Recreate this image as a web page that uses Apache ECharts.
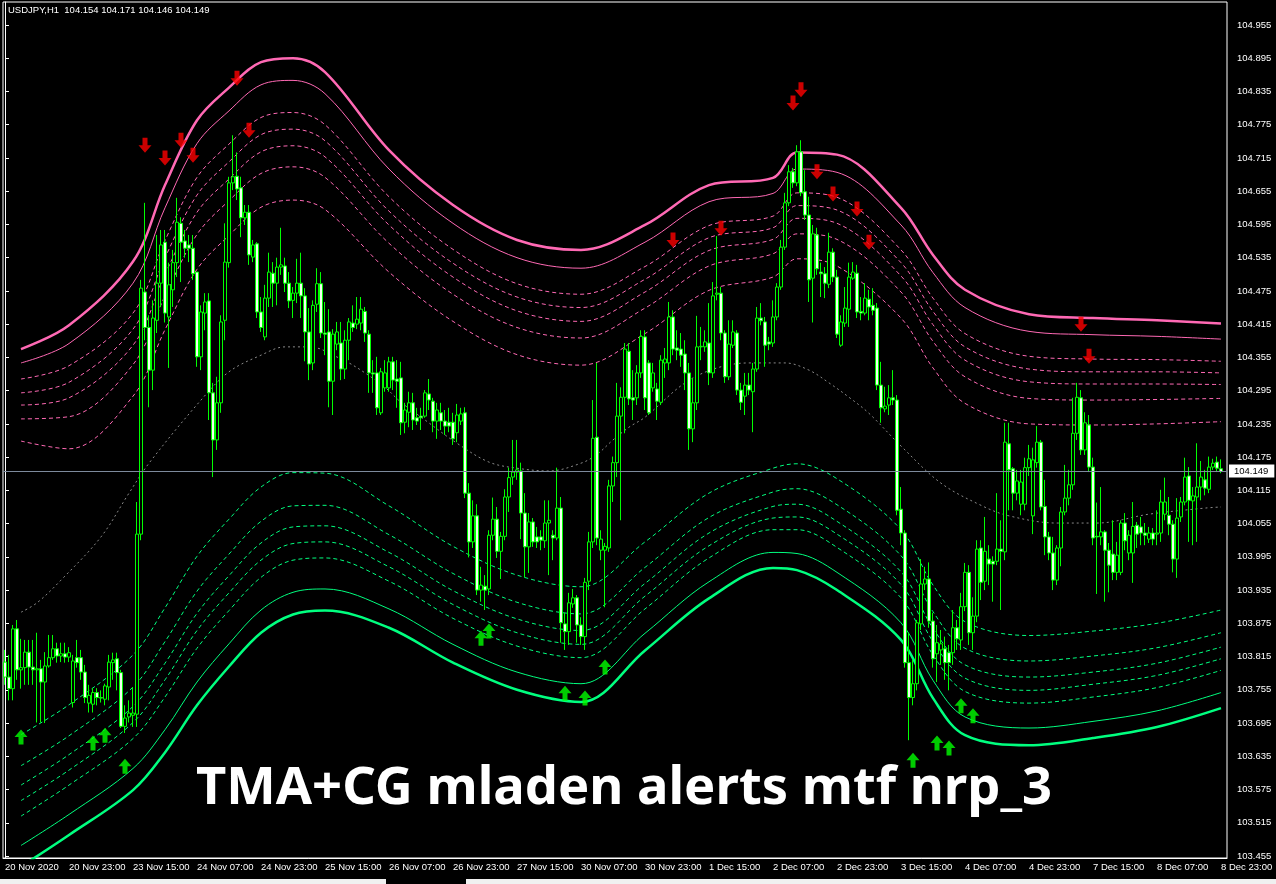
<!DOCTYPE html>
<html><head><meta charset="utf-8">
<script src="https://cdn.jsdelivr.net/npm/echarts@6/dist/echarts.min.js"></script>
<style>html,body{margin:0;padding:0;background:#000;}#c{width:1276px;height:884px;}</style>
</head><body><div id="c"></div>
<script>
const tickLabels = ['20 Nov 2020','20 Nov 23:00','23 Nov 15:00','24 Nov 07:00','24 Nov 23:00','25 Nov 15:00','26 Nov 07:00','26 Nov 23:00','27 Nov 15:00','30 Nov 07:00','30 Nov 23:00','1 Dec 15:00','2 Dec 07:00','2 Dec 23:00','3 Dec 15:00','4 Dec 07:00','4 Dec 23:00','7 Dec 15:00','8 Dec 07:00','8 Dec 23:00'];
const priceTicks = [103.455,103.515,103.575,103.635,103.695,103.755,103.815,103.875,103.935,103.995,104.055,104.115,104.175,104.235,104.295,104.355,104.415,104.475,104.535,104.595,104.655,104.715,104.775,104.835,104.895,104.955];
// [open, close, low, high]
const candles = [
[103.805,103.778,103.764,103.827],[103.778,103.757,103.736,103.818],[103.757,103.865,103.736,103.872],[103.865,103.791,103.773,103.881],
[103.791,103.795,103.757,103.847],[103.795,103.823,103.764,103.845],[103.823,103.796,103.764,103.845],[103.796,103.791,103.764,103.845],
[103.791,103.793,103.696,103.858],[103.793,103.769,103.696,103.809],[103.769,103.798,103.695,103.823],[103.798,103.813,103.795,103.854],
[103.813,103.829,103.809,103.854],[103.829,103.816,103.804,103.840],[103.816,103.820,103.805,103.840],[103.820,103.814,103.804,103.840],
[103.814,103.822,103.805,103.832],[103.732,103.807,103.723,103.818],[103.813,103.804,103.795,103.845],[103.813,103.787,103.773,103.827],
[103.787,103.741,103.731,103.800],[103.731,103.745,103.714,103.764],[103.729,103.750,103.714,103.758],[103.750,103.741,103.727,103.758],
[103.741,103.740,103.732,103.754],[103.738,103.762,103.727,103.766],[103.760,103.805,103.736,103.818],[103.804,103.809,103.773,103.822],
[103.811,103.786,103.754,103.822],[103.786,103.689,103.686,103.791],[103.689,103.704,103.677,103.727],[103.706,103.713,103.696,103.736],
[103.709,103.713,103.688,103.760],[103.711,104.036,103.688,104.094],[104.036,104.480,104.025,104.495],[104.473,104.409,104.386,104.634],
[104.409,104.332,104.265,104.431],[104.332,104.426,104.296,104.458],[104.422,104.489,104.399,104.576],[104.489,104.558,104.446,104.585],
[104.563,104.435,104.418,104.585],[104.428,104.486,104.336,104.526],[104.477,104.526,104.446,104.549],[104.526,104.599,104.500,104.643],
[104.597,104.563,104.491,104.608],[104.565,104.552,104.535,104.585],[104.558,104.552,104.527,104.576],[104.552,104.506,104.495,104.576],
[104.509,104.356,104.338,104.509],[104.356,104.437,104.332,104.449],[104.435,104.455,104.404,104.471],[104.457,104.291,104.242,104.471],
[104.291,104.206,104.139,104.309],[104.206,104.273,104.188,104.320],[104.273,104.419,104.255,104.431],[104.422,104.527,104.386,104.597],
[104.526,104.670,104.517,104.681],[104.670,104.681,104.657,104.756],[104.682,104.659,104.639,104.725],[104.661,104.607,104.572,104.681],
[104.607,104.617,104.594,104.630],[104.617,104.540,104.522,104.630],[104.536,104.558,104.527,104.567],[104.560,104.437,104.426,104.563],
[104.437,104.409,104.401,104.464],[104.392,104.462,104.386,104.486],[104.462,104.509,104.446,104.544],[104.507,104.489,104.446,104.527],
[104.489,104.518,104.449,104.535],[104.518,104.522,104.504,104.589],[104.520,104.489,104.473,104.535],[104.489,104.457,104.444,104.509],
[104.458,104.471,104.426,104.482],[104.471,104.489,104.453,104.533],[104.489,104.466,104.426,104.544],[104.466,104.401,104.348,104.480],
[104.401,104.343,104.314,104.444],[104.345,104.449,104.332,104.458],[104.451,104.488,104.437,104.516],[104.488,104.399,104.390,104.509],
[104.399,104.397,104.359,104.455],[104.401,104.312,104.265,104.442],[104.312,104.397,104.251,104.406],[104.379,104.401,104.368,104.419],
[104.381,104.334,104.314,104.419],[104.334,104.386,104.316,104.404],[104.386,104.419,104.350,104.426],[104.417,104.409,104.401,104.449],
[104.415,104.424,104.406,104.464],[104.417,104.442,104.404,104.464],[104.438,104.399,104.383,104.446],[104.397,104.327,104.291,104.404],
[104.327,104.325,104.291,104.350],[104.327,104.264,104.251,104.356],[104.255,104.329,104.251,104.336],[104.300,104.327,104.293,104.350],
[104.300,104.347,104.293,104.356],[104.347,104.314,104.296,104.356],[104.316,104.312,104.264,104.350],[104.318,104.237,104.215,104.347],
[104.238,104.260,104.218,104.273],[104.256,104.273,104.229,104.293],[104.273,104.242,104.224,104.291],[104.246,104.240,104.233,104.264],
[104.249,104.246,104.224,104.264],[104.249,104.291,104.246,104.296],[104.289,104.278,104.260,104.316],[104.276,104.240,104.220,104.282],
[104.240,104.260,104.208,104.273],[104.255,104.240,104.224,104.273],[104.240,104.231,104.215,104.260],[104.238,104.231,104.220,104.264],
[104.238,104.208,104.197,104.255],[104.219,104.251,104.202,104.271],[104.240,104.253,104.233,104.264],[104.255,104.110,104.101,104.265],
[104.110,104.022,103.994,104.128],[104.022,104.069,104.011,104.097],[104.069,103.935,103.926,104.090],[103.935,103.944,103.914,103.977],
[103.942,103.935,103.899,103.962],[103.937,104.034,103.926,104.043],[104.034,104.063,104.025,104.102],[104.063,104.005,103.993,104.085],
[104.005,104.032,103.955,104.040],[104.032,104.103,104.025,104.117],[104.103,104.138,104.076,104.156],[104.139,104.148,104.125,104.206],
[104.148,104.152,104.134,104.206],[104.150,104.074,104.027,104.165],[104.074,104.013,103.958,104.110],[104.013,104.058,103.966,104.074],
[104.058,104.022,104.013,104.065],[104.031,104.022,104.011,104.049],[104.031,104.025,104.007,104.043],[104.024,104.056,104.011,104.097],
[104.056,104.061,103.962,104.097],[104.034,104.029,103.989,104.043],[104.029,104.083,104.025,104.156],[104.083,103.876,103.840,104.103],
[103.874,103.860,103.827,103.894],[103.860,103.912,103.836,103.930],[103.910,103.921,103.903,103.937],[103.921,103.872,103.840,103.926],
[103.872,103.851,103.836,103.886],[103.851,103.949,103.827,103.957],[103.951,104.022,103.935,104.040],[104.022,104.209,104.011,104.278],
[104.211,104.029,104.016,104.345],[104.007,104.027,103.989,104.043],[104.007,104.014,103.904,104.020],[104.011,104.123,104.004,104.134],
[104.123,104.165,104.094,104.176],[104.165,104.249,104.139,104.309],[104.249,104.283,104.061,104.301],[104.283,104.370,104.218,104.381],
[104.366,104.280,104.269,104.381],[104.282,104.278,104.242,104.332],[104.282,104.327,104.269,104.341],[104.327,104.393,104.318,104.404],
[104.392,104.282,104.260,104.404],[104.345,104.255,104.251,104.350],[104.300,104.327,104.293,104.345],[104.298,104.276,104.242,104.309],
[104.274,104.350,104.269,104.359],[104.345,104.352,104.318,104.372],[104.345,104.428,104.332,104.455],[104.428,104.370,104.359,104.440],
[104.372,104.368,104.350,104.404],[104.370,104.359,104.338,104.399],[104.361,104.327,104.296,104.386],[104.327,104.226,104.188,104.345],
[104.226,104.273,104.202,104.318],[104.273,104.374,104.260,104.430],[104.374,104.375,104.350,104.410],[104.374,104.383,104.365,104.404],
[104.381,104.327,104.305,104.453],[104.327,104.466,104.318,104.491],[104.469,104.471,104.458,104.574],[104.471,104.399,104.386,104.482],
[104.399,104.320,104.309,104.404],[104.320,104.379,104.314,104.422],[104.377,104.401,104.372,104.422],[104.399,104.296,104.287,104.404],
[104.296,104.274,104.260,104.309],[104.285,104.305,104.251,104.327],[104.305,104.296,104.287,104.327],[104.293,104.334,104.220,104.345],
[104.334,104.426,104.329,104.446],[104.426,104.421,104.413,104.453],[104.419,104.377,104.338,104.428],[104.383,104.379,104.368,104.392],
[104.381,104.428,104.374,104.458],[104.428,104.482,104.422,104.489],[104.482,104.554,104.477,104.567],[104.554,104.634,104.549,104.652],
[104.634,104.690,104.628,104.702],[104.690,104.670,104.661,104.697],[104.670,104.726,104.664,104.738],[104.726,104.652,104.646,104.747],
[104.654,104.612,104.603,104.693],[104.612,104.495,104.455,104.645],[104.498,104.578,104.418,104.594],[104.576,104.515,104.504,104.589],
[104.509,104.506,104.464,104.526],[104.506,104.489,104.462,104.518],[104.487,104.545,104.480,104.580],[104.545,104.500,104.491,104.552],
[104.500,104.397,104.390,104.513],[104.377,104.419,104.374,104.431],[104.417,104.444,104.410,104.482],[104.442,104.500,104.410,104.526],
[104.498,104.509,104.495,104.527],[104.507,104.437,104.426,104.522],[104.438,104.435,104.422,104.464],[104.435,104.462,104.431,104.489],
[104.460,104.446,104.422,104.477],[104.449,104.440,104.431,104.480],[104.444,104.305,104.296,104.453],[104.305,104.264,104.237,104.347],
[104.262,104.267,104.256,104.302],[104.269,104.282,104.251,104.305],[104.282,104.278,104.269,104.332],[104.278,104.079,104.070,104.287],
[104.081,104.038,104.016,104.121],[104.038,103.804,103.795,104.043],[103.804,103.741,103.664,103.858],[103.741,103.766,103.727,103.809],
[103.766,103.876,103.754,103.881],[103.874,103.946,103.863,103.991],[103.946,103.955,103.935,103.977],[103.955,103.879,103.867,103.985],
[103.879,103.811,103.795,103.894],[103.820,103.840,103.769,103.872],[103.827,103.838,103.800,103.863],[103.829,103.804,103.773,103.851],
[103.822,103.804,103.754,103.836],[103.822,103.867,103.800,103.899],[103.867,103.847,103.827,103.881],[103.845,103.905,103.827,103.930],
[103.905,103.967,103.897,103.984],[103.967,103.858,103.836,103.980],[103.858,103.888,103.827,103.922],[103.888,104.009,103.877,104.025],
[104.011,103.949,103.917,104.025],[103.951,104.005,103.935,104.067],[103.991,103.982,103.944,104.016],[103.987,103.982,103.914,103.996],
[103.987,104.009,103.980,104.110],[104.009,104.005,103.899,104.061],[104.004,104.202,103.989,104.237],[104.199,104.152,104.079,104.237],
[104.154,104.110,104.079,104.157],[104.110,104.132,104.097,104.152],[104.090,104.130,104.070,104.152],[104.090,104.156,104.079,104.174],
[104.156,104.172,104.141,104.197],[104.069,104.170,104.036,104.192],[104.165,104.202,104.156,104.231],[104.202,104.085,104.079,104.206],
[104.086,104.031,103.998,104.134],[104.031,104.002,103.989,104.040],[104.002,103.953,103.935,104.031],[103.953,104.011,103.944,104.016],
[104.011,104.076,103.978,104.085],[104.076,104.101,104.070,104.161],[104.101,104.125,104.088,104.152],[104.125,104.218,104.116,104.282],
[104.218,104.283,104.206,104.309],[104.282,104.188,104.179,104.296],[104.188,104.237,104.179,104.256],[104.233,104.157,104.148,104.251],
[104.157,104.029,104.016,104.174],[104.032,104.031,103.928,104.093],[104.031,104.040,104.016,104.121],[104.040,104.007,103.914,104.043],
[104.007,103.980,103.931,104.020],[104.000,103.967,103.953,104.061],[103.967,103.998,103.953,104.022],[103.967,104.056,103.962,104.061],
[104.056,104.024,104.007,104.074],[104.002,104.034,103.989,104.043],[104.002,104.050,103.948,104.094],[104.052,104.036,104.011,104.058],
[104.049,104.038,104.016,104.067],[104.038,104.034,104.016,104.056],[104.027,104.038,104.020,104.049],[104.038,104.027,104.016,104.047],
[104.036,104.038,104.016,104.079],[104.038,104.094,104.022,104.116],[104.072,104.094,104.061,104.138],[104.070,104.054,104.034,104.103],
[104.054,103.991,103.967,104.061],[103.991,104.065,103.957,104.101],[104.067,104.094,104.058,104.103],[104.094,104.139,104.088,104.174],
[104.141,104.097,104.022,104.157],[104.096,104.105,104.016,104.121],[104.103,104.121,104.022,104.200],[104.121,104.139,104.097,104.168],
[104.134,104.119,104.106,104.152],[104.117,104.157,104.110,104.176],[104.157,104.164,104.152,104.172],[104.166,104.155,104.148,104.176],
[104.154,104.149,104.146,104.171]
];
// TMA bands sampled at bar indices
const bandIdx = [4,16,32,40,48,56,64,72,80,96,112,128,144,160,176,192,198,208,224,232,240,256,272,288,304];
const upper0 = [104.370,104.413,104.528,104.666,104.783,104.842,104.888,104.895,104.870,104.729,104.630,104.567,104.549,104.594,104.666,104.679,104.725,104.721,104.625,104.540,104.477,104.433,104.426,104.422,104.416];
const upper1 = [104.345,104.380,104.489,104.625,104.741,104.800,104.847,104.855,104.831,104.695,104.597,104.535,104.516,104.563,104.636,104.651,104.695,104.689,104.594,104.508,104.445,104.402,104.396,104.393,104.388];
const upper2 = [104.316,104.340,104.435,104.566,104.680,104.740,104.788,104.797,104.775,104.645,104.550,104.488,104.469,104.519,104.593,104.610,104.652,104.644,104.549,104.462,104.398,104.357,104.352,104.351,104.348];
const upper3 = [104.291,104.310,104.406,104.535,104.648,104.708,104.757,104.767,104.746,104.619,104.525,104.464,104.445,104.496,104.571,104.589,104.629,104.621,104.526,104.438,104.374,104.334,104.329,104.329,104.327];
const upper4 = [104.269,104.282,104.377,104.505,104.617,104.677,104.726,104.737,104.717,104.594,104.500,104.439,104.420,104.473,104.548,104.568,104.606,104.597,104.502,104.414,104.350,104.311,104.307,104.307,104.306];
const upper5 = [104.244,104.248,104.342,104.466,104.577,104.638,104.687,104.699,104.680,104.561,104.469,104.409,104.390,104.444,104.520,104.542,104.578,104.568,104.473,104.384,104.320,104.281,104.278,104.279,104.281];
const upper6 = [104.204,104.190,104.285,104.405,104.514,104.575,104.626,104.639,104.622,104.509,104.420,104.360,104.341,104.398,104.476,104.500,104.533,104.520,104.426,104.336,104.272,104.235,104.233,104.235,104.239];
const lower6 = [103.674,103.728,103.818,103.903,103.996,104.063,104.121,104.147,104.146,104.087,104.014,103.962,103.941,104.022,104.110,104.155,104.163,104.136,104.044,103.944,103.878,103.853,103.861,103.875,103.899];
const lower5 = [103.618,103.672,103.760,103.842,103.933,104.000,104.059,104.087,104.088,104.035,103.965,103.913,103.892,103.976,104.066,104.112,104.118,104.089,103.997,103.896,103.830,103.807,103.816,103.831,103.858];
const lower4 = [103.583,103.638,103.725,103.803,103.893,103.961,104.020,104.049,104.051,104.003,103.934,103.883,103.862,103.947,104.038,104.086,104.090,104.059,103.968,103.866,103.800,103.778,103.787,103.803,103.832];
const lower3 = [103.555,103.610,103.696,103.773,103.862,103.930,103.989,104.019,104.022,103.977,103.909,103.858,103.837,103.924,104.015,104.065,104.067,104.036,103.945,103.842,103.776,103.754,103.765,103.781,103.811];
const lower2 = [103.527,103.583,103.667,103.742,103.830,103.898,103.958,103.989,103.993,103.951,103.884,103.834,103.813,103.901,103.993,104.044,104.044,104.012,103.921,103.818,103.752,103.731,103.742,103.759,103.790];
const lower1 = [103.474,103.530,103.613,103.683,103.769,103.838,103.899,103.931,103.937,103.901,103.837,103.787,103.766,103.857,103.950,104.003,104.001,103.967,103.876,103.772,103.706,103.686,103.698,103.717,103.750];
const lower0 = [103.436,103.493,103.574,103.642,103.727,103.797,103.858,103.891,103.898,103.867,103.804,103.755,103.733,103.826,103.920,103.975,103.971,103.935,103.845,103.740,103.673,103.655,103.668,103.688,103.722];
const centerIdx = [4,8,14,24,31,36,49,56,64,70,74,78,82,86,90,95,99,105,113,121,128,136,144,148,152,156,160,170,178,186,195,201,206,211,216,224,234,244,251,263,273,286,300,304];
const centerVal = [103.895,103.912,103.953,104.031,104.110,104.164,104.278,104.329,104.359,104.374,104.374,104.372,104.359,104.345,104.327,104.301,104.274,104.242,104.200,104.166,104.155,104.150,104.164,104.180,104.206,104.229,104.247,104.309,104.336,104.345,104.345,104.332,104.309,104.283,104.254,104.195,104.128,104.088,104.069,104.056,104.056,104.072,104.083,104.085];
const downIdx = [35,40,44,47,58,61,167,179,197,199,203,207,213,216,269,271];
const downVal = [104.738,104.715,104.747,104.720,104.859,104.765,104.567,104.588,104.814,104.838,104.690,104.650,104.623,104.563,104.415,104.357];
const upIdx = [4,22,25,30,119,121,140,145,150,227,233,236,239,242];
const upVal = [103.670,103.659,103.673,103.617,103.848,103.861,103.749,103.740,103.796,103.628,103.659,103.650,103.726,103.708];
const bidPrice = 104.149;
const headerText = 'USDJPY,H1  104.154 104.171 104.146 104.149';
const titleText = 'TMA+CG mladen alerts mtf nrp_3';

const N = 306;
const cats = Array.from({length: N}, (_, i) => String(i));
const PINK = '#ff69b4', GREEN = '#00ff7f';
function band(arr, color, width, type) {
  return {type: 'line', xAxisIndex: 1, yAxisIndex: 0, data: bandIdx.map((b, k) => [b, arr[k]]),
    showSymbol: false, smooth: 0.35, silent: true, z: 2,
    lineStyle: {color: color, width: width, type: type}};
}
const upPath = 'path://M6.5,0 L13,7.5 L9,7.5 L9,15 L4,15 L4,7.5 L0,7.5 Z';
const downPath = 'path://M4,0 L9,0 L9,7.5 L13,7.5 L6.5,15 L0,7.5 L4,7.5 Z';
const chart = echarts.init(document.getElementById('c'));
chart.setOption({
  animation: false,
  backgroundColor: '#000',
  grid: {left: 3, top: 2, width: 1224, height: 856, show: true, borderColor: '#fff', borderWidth: 1, backgroundColor: 'transparent'},
  xAxis: [{
    type: 'category', data: cats, boundaryGap: true,
    axisLine: {lineStyle: {color: '#fff'}},
    axisTick: {alignWithLabel: true, length: 3, interval: (i) => i % 16 === 0 && i <= 304, lineStyle: {color: '#fff'}},
    axisLabel: {interval: (i) => i % 16 === 0 && i <= 304, formatter: (v, i) => (i % 16 === 0 ? tickLabels[i / 16] || '' : ''),
      color: '#fff', fontSize: 9.5, fontFamily: 'Liberation Sans', align: 'left', margin: 4},
    splitLine: {show: false}
  }, {
    type: 'value', min: -0.5, max: N - 0.5, show: false
  }],
  yAxis: [{
    type: 'value', position: 'right', min: 103.4514, max: 104.9965, scale: true,
    axisLine: {show: true, lineStyle: {color: '#fff'}},
    axisTick: {show: true, length: 4, customValues: priceTicks, lineStyle: {color: '#fff'}},
    axisLabel: {customValues: priceTicks, formatter: (v) => Number(v).toFixed(3), color: '#fff', fontSize: 9.5, fontFamily: 'Liberation Sans', margin: 10},
    splitLine: {show: false}
  }],
  series: [
    band(upper6, PINK, 1, [4, 3]), band(upper5, PINK, 1, [4, 3]), band(upper4, PINK, 1, [4, 3]),
    band(upper3, PINK, 1, [4, 3]), band(upper2, PINK, 1, [4, 3]), band(upper1, PINK, 1, 'solid'), band(upper0, PINK, 2.5, 'solid'),
    band(lower6, GREEN, 1, [4, 3]), band(lower5, GREEN, 1, [4, 3]), band(lower4, GREEN, 1, [4, 3]),
    band(lower3, GREEN, 1, [4, 3]), band(lower2, GREEN, 1, [4, 3]), band(lower1, GREEN, 1, 'solid'), band(lower0, GREEN, 2.5, 'solid'),
    {type: 'line', xAxisIndex: 1, data: centerIdx.map((b, k) => [b, centerVal[k]]), showSymbol: false, smooth: 0.35, silent: true, z: 2,
      lineStyle: {color: '#8a8a8a', width: 1, type: [2, 3]}},
    {type: 'candlestick', xAxisIndex: 0, yAxisIndex: 0, data: candles, barWidth: 3, z: 3,
      itemStyle: {color: '#000', color0: '#f4fff0', borderColor: '#00ff00', borderColor0: '#00ff00', borderColorDoji: '#00ff00', borderWidth: 1},
      markLine: {symbol: 'none', silent: true, animation: false, data: [{yAxis: bidPrice}],
        lineStyle: {color: '#7d8a9c', type: 'solid', width: 1},
        label: {show: true, position: 'end', formatter: bidPrice.toFixed(3), backgroundColor: '#fff', color: '#000', fontSize: 9.5,
          fontFamily: 'Liberation Sans', padding: [2, 6, 1, 5], distance: 2}}},
    {type: 'scatter', xAxisIndex: 1, data: downIdx.map((b, k) => [b, downVal[k]]), symbol: downPath, symbolSize: [13, 15], z: 4, silent: true,
      itemStyle: {color: '#ff0000'}},
    {type: 'scatter', xAxisIndex: 1, data: upIdx.map((b, k) => [b, upVal[k]]), symbol: upPath, symbolSize: [13, 15], z: 4, silent: true,
      itemStyle: {color: '#00ff00'}}
  ],
  graphic: [
    {type: 'text', left: 8, top: 5, z: 10, style: {text: headerText, fill: '#fff', font: '9.5px "Liberation Sans"'}},
    {type: 'text', z: 10, x: 624, y: 789, style: {text: titleText, fill: '#fff', font: 'bold 52.5px "Noto Sans"', textAlign: 'center', textVerticalAlign: 'middle'}},
    {type: 'rect', z: 10, shape: {x: 0, y: 879, width: 386, height: 5}, style: {fill: '#f0f0f0'}},
    {type: 'rect', z: 10, shape: {x: 466, y: 879, width: 810, height: 5}, style: {fill: '#f0f0f0'}}
  ]
});
</script></body></html>
